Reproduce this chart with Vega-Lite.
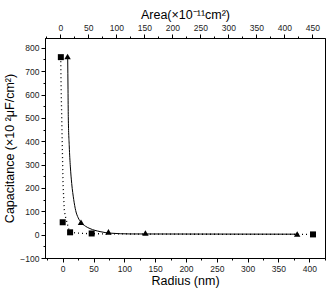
{
  "$schema": "https://vega.github.io/schema/vega-lite/v6.json",
  "autosize": "none",
  "padding": {"left": 45, "top": 38, "right": 5, "bottom": 34},
  "width": 280,
  "height": 220,
  "background": "white",
  "config": {
    "view": {"stroke": "black", "strokeWidth": 1},
    "font": "Liberation Sans",
    "axis": {
      "domainColor": "black",
      "tickColor": "black",
      "labelColor": "#222",
      "labelFont": "Liberation Sans",
      "labelFontSize": 8.5,
      "titleFont": "Liberation Sans",
      "titleFontSize": 12.5,
      "titleFontWeight": "normal",
      "titleColor": "black",
      "grid": false,
      "labelOverlap": false,
      "labelPadding": 2,
      "labelFlush": false
    }
  },
  "datasets": {
    "squares": [
      {"r": -3, "c": 760},
      {"r": 0, "c": 53},
      {"r": 12, "c": 10},
      {"r": 47, "c": 5},
      {"r": 406, "c": 1}
    ],
    "dotted": [
      {"r": -3.2, "c": 760},
      {"r": -2.6, "c": 640},
      {"r": -1.6, "c": 505},
      {"r": -0.5, "c": 360},
      {"r": 0.5, "c": 219},
      {"r": 2.6, "c": 103},
      {"r": 5, "c": 70},
      {"r": 7, "c": 52},
      {"r": 9.5, "c": 25},
      {"r": 12, "c": 10},
      {"r": 28, "c": 6},
      {"r": 47, "c": 4},
      {"r": 150, "c": 2},
      {"r": 406, "c": 1}
    ],
    "triangles": [
      {"a": 13, "c": 763},
      {"a": 37, "c": 53},
      {"a": 86, "c": 12},
      {"a": 152, "c": 7},
      {"a": 423, "c": 3}
    ],
    "solid": [
      {"a": 13.2, "c": 763},
      {"a": 13.8, "c": 620},
      {"a": 14.3, "c": 505},
      {"a": 16, "c": 380},
      {"a": 18, "c": 290},
      {"a": 20.4, "c": 219},
      {"a": 24, "c": 150},
      {"a": 27.5, "c": 103},
      {"a": 32, "c": 72},
      {"a": 37, "c": 53},
      {"a": 45, "c": 36},
      {"a": 53, "c": 26},
      {"a": 71, "c": 13},
      {"a": 89, "c": 6.5},
      {"a": 125, "c": 3},
      {"a": 250, "c": 2.5},
      {"a": 423, "c": 2}
    ]
  },
  "encoding": {
    "y": {
      "field": "c",
      "type": "quantitative",
      "scale": {"domain": [-100, 842], "nice": false, "zero": false},
      "axis": {
        "orient": "left",
        "title": "Capacitance (×10 ²μF/cm²)",
        "titlePadding": 3,
        "values": [-100, -50, 0, 50, 100, 150, 200, 250, 300, 350, 400, 450, 500, 550, 600, 650, 700, 750, 800],
        "labelExpr": "datum.value % 100 === 0 ? datum.label : ''",
        "tickSize": {"expr": "datum.value % 100 === 0 ? 4 : 2"}
      }
    }
  },
  "layer": [
    {
      "layer": [
        {
          "data": {"name": "dotted"},
          "mark": {"type": "line", "color": "black", "strokeWidth": 1.3, "strokeDash": [1, 3], "interpolate": "linear"},
          "encoding": {
            "order": {"field": "r", "type": "quantitative"}
          }
        },
        {
          "data": {"name": "squares"},
          "mark": {"type": "point", "shape": "square", "filled": true, "color": "black", "size": 36, "opacity": 1},
          "encoding": {}
        }
      ],
      "encoding": {
        "x": {
          "field": "r",
          "type": "quantitative",
          "scale": {"domain": [-28.7, 425.5], "nice": false, "zero": false},
          "axis": {
            "orient": "bottom",
            "title": "Radius (nm)",
            "titlePadding": 2,
            "values": [-25, 0, 25, 50, 75, 100, 125, 150, 175, 200, 225, 250, 275, 300, 325, 350, 375, 400, 425],
            "labelExpr": "datum.value % 50 === 0 ? datum.label : ''",
            "tickSize": {"expr": "datum.value % 50 === 0 ? 4 : 2"}
          }
        }
      }
    },
    {
      "layer": [
        {
          "data": {"name": "solid"},
          "mark": {"type": "line", "color": "black", "strokeWidth": 1, "interpolate": "monotone"},
          "encoding": {
            "order": {"field": "a", "type": "quantitative"}
          }
        },
        {
          "data": {"name": "triangles"},
          "mark": {"type": "point", "shape": "triangle-up", "filled": true, "color": "black", "size": 42, "opacity": 1},
          "encoding": {}
        }
      ],
      "encoding": {
        "x": {
          "field": "a",
          "type": "quantitative",
          "scale": {"domain": [-27.3, 472.7], "nice": false, "zero": false},
          "axis": {
            "orient": "top",
            "title": "Area(×10⁻¹¹cm²)",
            "titlePadding": 2,
            "values": [-25, 0, 25, 50, 75, 100, 125, 150, 175, 200, 225, 250, 275, 300, 325, 350, 375, 400, 425, 450],
            "labelExpr": "datum.value % 50 === 0 ? datum.label : ''",
            "tickSize": {"expr": "datum.value % 50 === 0 ? 4 : 2"}
          }
        }
      }
    }
  ],
  "resolve": {"scale": {"x": "independent"}}
}
